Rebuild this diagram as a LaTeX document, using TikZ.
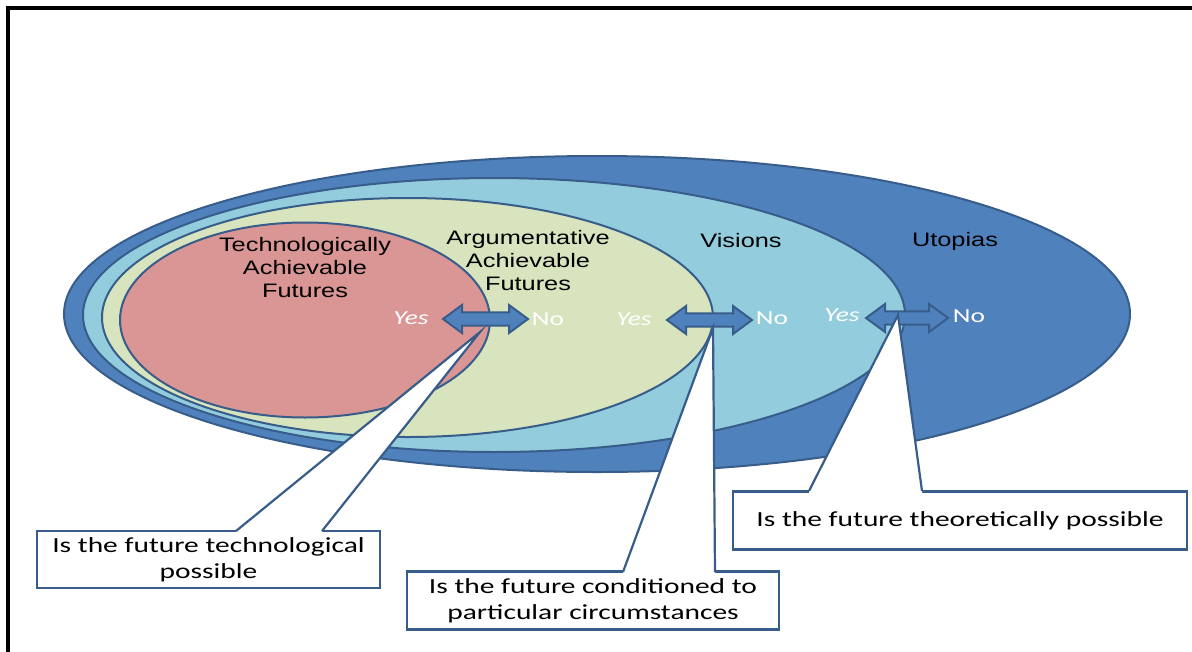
\documentclass[tikz,border=0pt]{standalone}
\usepackage{fontspec}
\setmainfont{Liberation Sans}
\newfontfamily\arialx[FakeStretch=1.3]{Liberation Sans}
\newfontfamily\calx[FakeStretch=1.37]{Carlito}
\usetikzlibrary{shapes.geometric}
\definecolor{edge}{HTML}{385D8A}
\definecolor{utop}{HTML}{4F81BD}
\definecolor{vis}{HTML}{93CDDD}
\definecolor{argu}{HTML}{D7E4BD}
\definecolor{tech}{HTML}{D99694}
\tikzset{
 zone/.style={ellipse, draw=edge, line width=2pt, inner sep=0pt},
 lbl/.style={font=\arialx\fontsize{19.5}{23}\selectfont, align=center, inner sep=0pt, text=black},
 yn/.style={font=\calx\fontsize{20}{24}\selectfont, text=white, inner sep=0pt},
 qbox/.style={draw=edge, line width=2.2pt, fill=white, inner sep=0pt, align=center, font=\calx\fontsize{21.5}{26}\selectfont},
 dbl/.style={draw=edge, line width=2pt, fill=utop, line join=miter},
 wedgeline/.style={draw=edge, line width=2.2pt, line join=miter}
}
\newcommand\dblarr[3]{\draw[dbl] (#1,#3) -- ({#1+19},{#3-14}) -- ({#1+19},{#3-6.7}) -- ({#2-19},{#3-6.7}) -- ({#2-19},{#3-14}) -- (#2,#3) -- ({#2-19},{#3+14}) -- ({#2-19},{#3+6.7}) -- ({#1+19},{#3+6.7}) -- ({#1+19},{#3+14}) -- cycle;}
\begin{document}
\begin{tikzpicture}[x=1pt,y=-1pt]
\useasboundingbox (0,0) rectangle (1192,651);
\fill[white] (0,0) rectangle (1192,651);
% frame
\draw[line width=3.5pt, black] (8,660) -- (8,8) -- (1200,8);
% zones
\node[zone, fill=utop, minimum width=1066pt, minimum height=316pt] (utopias) at (597,314) {};
\node[zone, fill=vis, minimum width=822pt, minimum height=274pt] (visions) at (494,315) {};
\node[zone, fill=argu, minimum width=611pt, minimum height=239pt] (argum) at (407.5,317.5) {};
\node[zone, fill=tech, minimum width=370pt, minimum height=195pt] (techn) at (305,320) {};
% zone labels
\node[lbl] (ltech) at (305,268) {Technologically\\Achievable\\Futures};
\node[lbl] (largu) at (528,261) {Argumentative\\Achievable\\Futures};
\node[lbl] (lvis) at (741,241) {Visions};
\node[lbl] (lutop) at (955,241) {Utopias};
% double arrows
\dblarr{443}{528}{319}
\dblarr{667}{752}{320}
\dblarr{866}{948}{318}
% yes / no
\node[yn] (y1) at (411,318) {\itshape Yes};
\node[yn] (n1) at (548,319) {No};
\node[yn] (y2) at (634,319) {\itshape Yes};
\node[yn] (n2) at (772,318) {No};
\node[yn] (y3) at (842,315) {\itshape Yes};
\node[yn] (n3) at (969,316) {No};
% question boxes
\node[qbox, minimum width=343pt, minimum height=57pt] (q1) at (208.5,559.5) {Is the future technological\\possible};
\node[qbox, minimum width=372pt, minimum height=58pt] (q2) at (593,600.5) {Is the future conditioned to\\particular circumstances};
\node[qbox, minimum width=454pt, minimum height=58pt] (q3) at (960,520.5) {Is the future theoretically possible};
% pointer tips and bases
\coordinate (t1) at (480,332);
\coordinate (t2) at (713,328);
\coordinate (t3) at (898,315);
\coordinate (b1l) at (236,531); \coordinate (b1r) at (322,531);
\coordinate (b2l) at (623,572); \coordinate (b2r) at (715,572);
\coordinate (b3l) at (809,491); \coordinate (b3r) at (922,491);
% wedges
\foreach \t/\l/\r in {t1/b1l/b1r, t2/b2l/b2r, t3/b3l/b3r}{
  \fill[white] (\l) -- (\t) -- (\r) -- ([yshift=-2.5pt]\r) -- ([yshift=-2.5pt]\l) -- cycle;
  \draw[wedgeline] (\l) -- (\t) -- (\r);
}
\end{tikzpicture}
\end{document}
